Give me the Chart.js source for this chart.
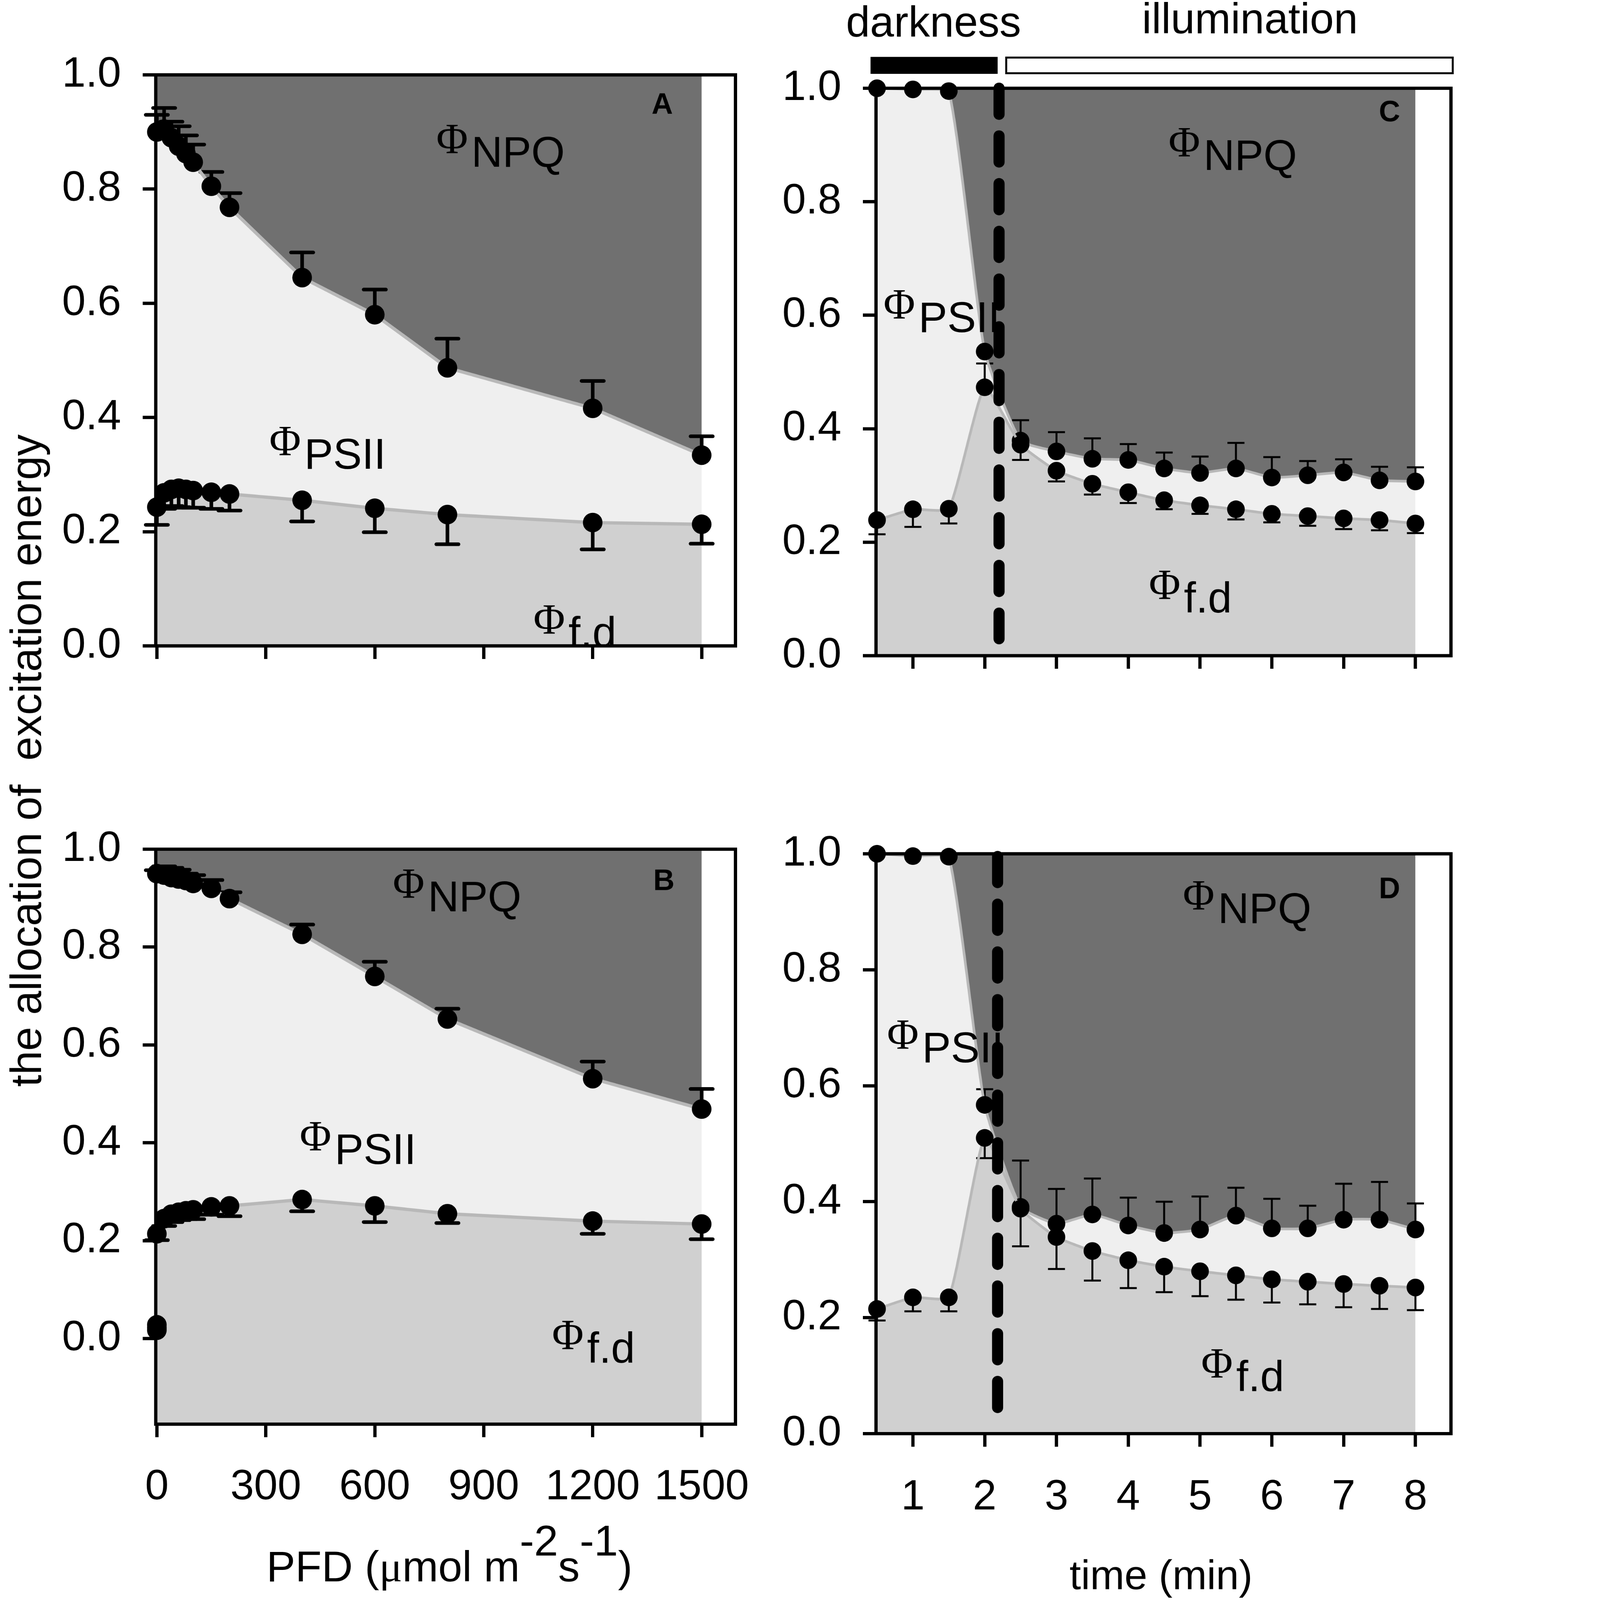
<!DOCTYPE html>
<html lang="en">
<head>
<meta charset="UTF-8">
<title>Allocation of excitation energy</title>
<script src="https://cdn.jsdelivr.net/npm/chart.js"></script>
<style>
    html, body { margin: 0; padding: 0; background: #fff; overflow: hidden; }
    #page { position: absolute; left: 0; top: 0; width: 4466px; height: 4895px; transform-origin: 0 0; }
    .wrap { position: absolute; }
    #yTitle {
        position: absolute;
        left: 80px;
        top: 2327px;
        transform: translate(-50%, -50%) rotate(-90deg);
        white-space: pre;
        font-family: "Liberation Sans", Arial, sans-serif;
        font-size: 132px;
        line-height: 1;
        color: #000;
    }
</style>
</head>
<body>
<div id="page">
    <div class="wrap" id="wrapA"><canvas id="chartA"></canvas></div>
    <div class="wrap" id="wrapB"><canvas id="chartB"></canvas></div>
    <div class="wrap" id="wrapC"><canvas id="chartC"></canvas></div>
    <div class="wrap" id="wrapD"><canvas id="chartD"></canvas></div>
    <div id="yTitle">the allocation of  excitation energy</div>
</div>

<script>
// ---- data ----
// panels A/B: light response (PFD, umol m-2 s-1)
const pfd = [0, 20, 40, 60, 80, 100, 150, 200, 400, 600, 800, 1200, 1500];
const pfdTicks = [0, 300, 600, 900, 1200, 1500];

// upper boundary = PhiPSII + Phif,d (i.e. 1 - PhiNPQ), lower boundary = Phif,d
const aUpper    = [0.900, 0.905, 0.890, 0.875, 0.862, 0.847, 0.805, 0.768, 0.645, 0.580, 0.487, 0.416, 0.334];
const aUpperCap = [0.930, 0.942, 0.918, 0.910, 0.894, 0.878, 0.830, 0.793, 0.689, 0.624, 0.538, 0.464, 0.367];
const aLower    = [0.243, 0.268, 0.274, 0.276, 0.274, 0.272, 0.269, 0.266, 0.255, 0.241, 0.230, 0.216, 0.213];
const aLowerCap = [0.212, 0.240, 0.245, 0.243, 0.242, 0.242, 0.240, 0.237, 0.218, 0.199, 0.178, 0.169, 0.179];

const bUpper    = [0.950, 0.947, 0.942, 0.939, 0.936, 0.930, 0.920, 0.899, 0.826, 0.740, 0.653, 0.531, 0.469];
const bUpperCap = [0.957, 0.965, 0.962, 0.958, 0.950, 0.947, 0.937, 0.912, 0.846, 0.770, 0.674, 0.566, 0.510];
const bLower    = [0.214, 0.245, 0.254, 0.258, 0.261, 0.263, 0.269, 0.271, 0.284, 0.271, 0.255, 0.240, 0.234];
const bLowerCap = [0.201, 0.230, 0.238, 0.242, 0.244, 0.244, 0.253, 0.250, 0.260, 0.238, 0.236, 0.214, 0.203];
const bOutlierX = [0, 0, 0];
const bOutlier  = [0.028, 0.022, 0.017];

// panels C/D: dark-light transition (time, min)
const time = [0.5, 1, 1.5, 2, 2.5, 3, 3.5, 4, 4.5, 5, 5.5, 6, 6.5, 7, 7.5, 8];
const timeTicks = [1, 2, 3, 4, 5, 6, 7, 8];

const cUpper    = [1.000, 0.998, 0.995, 0.536, 0.379, 0.360, 0.347, 0.345, 0.330, 0.322, 0.330, 0.314, 0.318, 0.323, 0.309, 0.307];
const cUpperCap = [null, null, null, null, 0.415, 0.394, 0.383, 0.373, 0.358, 0.351, 0.375, 0.350, 0.343, 0.346, 0.333, 0.332];
const cLower    = [0.239, 0.258, 0.259, 0.473, 0.372, 0.326, 0.303, 0.288, 0.274, 0.265, 0.258, 0.250, 0.246, 0.242, 0.239, 0.233];
const cLowerCap = [0.214, 0.227, 0.233, 0.515, 0.345, 0.307, 0.284, 0.269, 0.258, 0.250, 0.240, 0.235, 0.229, 0.223, 0.221, 0.216];

const dUpper    = [1.000, 0.996, 0.995, 0.567, 0.391, 0.362, 0.378, 0.359, 0.346, 0.352, 0.376, 0.354, 0.354, 0.369, 0.369, 0.352];
const dUpperCap = [null, null, null, 0.594, 0.471, 0.422, 0.440, 0.407, 0.400, 0.409, 0.424, 0.405, 0.393, 0.431, 0.434, 0.397];
const dLower    = [0.215, 0.235, 0.235, 0.510, 0.388, 0.339, 0.315, 0.299, 0.288, 0.280, 0.273, 0.266, 0.262, 0.258, 0.255, 0.252];
const dLowerCap = [0.195, 0.211, 0.211, 0.475, 0.323, 0.284, 0.264, 0.251, 0.244, 0.237, 0.231, 0.226, 0.223, 0.218, 0.215, 0.213];

const yTicks = [0, 0.2, 0.4, 0.6, 0.8, 1.0];

// darkness / illumination periods and the switch-on time (min)
const darkPeriod = [0.41, 2.18];
const lightPeriod = [2.30, 8.52];
const switchC = 2.2;
const switchD = 2.18;

// ---- page scaling: layout is written in 4466 x 4895 reference pixels ----
const pageScale = Math.min(window.innerWidth / 4466, window.innerHeight / 4895);
document.getElementById('page').style.transform = 'scale(' + pageScale + ')';

// ---- styles ----
const SANS = '"Liberation Sans", Arial, sans-serif';
const SERIF = '"Liberation Serif", "Times New Roman", serif';
const NPQ_FILL = '#707070';
const PSII_FILL = '#efefef';
const FD_FILL = '#d0d0d0';
const LINE = '#b8b8b8';
const Y_AXIS_W = 320;
const TEXT_SIZE = 132;

// helper: Phi with a lowered subscript
function drawPhi(ctx, x, y, sub) {
    ctx.font = TEXT_SIZE + 'px ' + SERIF;
    ctx.fillText('\u03A6', x, y);
    ctx.font = TEXT_SIZE + 'px ' + SANS;
    ctx.fillText(sub, x + 107, y + 42);
}

function makePlugin(p) {
    const off = p.wrap;
    return {
        id: 'panel' + p.name,
        beforeDatasetsDraw(chart) {
            const { ctx, scales: { x, y } } = chart;
            ctx.save();
            ctx.strokeStyle = '#000';
            ctx.lineWidth = p.err.width;
            ctx.lineCap = p.err.cap;
            p.errSets.forEach(set => {
                set.xs.forEach((xv, i) => {
                    const c = set.caps[i];
                    if (c === null) return;
                    const px = x.getPixelForValue(xv);
                    const py = y.getPixelForValue(set.ys[i]);
                    const pc = y.getPixelForValue(c);
                    ctx.beginPath();
                    ctx.moveTo(px, py);
                    ctx.lineTo(px, pc);
                    ctx.moveTo(px - p.err.half, pc);
                    ctx.lineTo(px + p.err.half, pc);
                    ctx.stroke();
                });
            });
            ctx.restore();
        },
        afterDatasetsDraw(chart) {
            if (p.switchAt === undefined) return;
            const { ctx, scales: { x, y } } = chart;
            const px = x.getPixelForValue(p.switchAt);
            ctx.save();
            ctx.strokeStyle = '#000';
            ctx.lineWidth = 34;
            ctx.lineCap = 'round';
            ctx.setLineDash([80, 66]);
            ctx.beginPath();
            ctx.moveTo(px, y.getPixelForValue(p.switchSpan[0]) + 17);
            ctx.lineTo(px, y.getPixelForValue(p.switchSpan[1]) - 17);
            ctx.stroke();
            ctx.restore();
        },
        afterDraw(chart) {
            const { ctx, chartArea: ca, scales: { x } } = chart;
            ctx.save();
            // frame
            ctx.strokeStyle = '#000';
            ctx.lineWidth = 10;
            ctx.strokeRect(ca.left, ca.top, ca.right - ca.left, ca.bottom - ca.top);

            ctx.fillStyle = '#000';
            ctx.textAlign = 'left';
            ctx.textBaseline = 'alphabetic';
            p.phis.forEach(l => drawPhi(ctx, l[0] - off.left, l[1] - off.top, l[2]));

            ctx.textAlign = 'center';
            ctx.font = 'bold 90px ' + SANS;
            ctx.fillText(p.letter[0], p.letter[1] - off.left, p.letter[2] - off.top);

            if (p.title) p.title(ctx, off);

            if (p.periods) {
                const x0 = x.getPixelForValue(darkPeriod[0]);
                const x1 = x.getPixelForValue(darkPeriod[1]);
                ctx.fillStyle = '#000';
                ctx.fillRect(x0, 174 - off.top, x1 - x0, 52);
                const x2 = x.getPixelForValue(lightPeriod[0]);
                const x3 = x.getPixelForValue(lightPeriod[1]);
                ctx.fillStyle = '#fff';
                ctx.fillRect(x2, 176 - off.top, x3 - x2, 48);
                ctx.lineWidth = 6;
                ctx.strokeRect(x2, 176 - off.top, x3 - x2, 48);
                ctx.fillStyle = '#000';
                ctx.font = TEXT_SIZE + 'px ' + SANS;
                ctx.textAlign = 'center';
                ctx.fillText('darkness', 2856 - off.left, 112 - off.top);
                ctx.fillText('illumination', 3824 - off.left, 102 - off.top);
            }
            ctx.restore();
        }
    };
}

function bandDatasets(xs, lower, upper, st) {
    const pts = ys => xs.map((v, i) => ({ x: v, y: ys[i] }));
    const common = { tension: st.tension, clip: false };
    return [
        Object.assign({
            label: 'Phi f,d',
            data: pts(lower),
            borderColor: LINE,
            borderWidth: st.lw,
            fill: 'start',
            backgroundColor: FD_FILL,
            pointRadius: st.r,
            pointHoverRadius: st.r,
            pointBackgroundColor: '#000',
            pointBorderWidth: 0
        }, common),
        Object.assign({
            label: 'Phi PSII band',
            data: pts(upper),
            borderWidth: 0,
            pointRadius: 0,
            fill: 'start',
            backgroundColor: PSII_FILL
        }, common),
        Object.assign({
            label: '1 - Phi NPQ',
            data: pts(upper),
            borderColor: LINE,
            borderWidth: st.lw,
            fill: 'end',
            backgroundColor: NPQ_FILL,
            pointRadius: st.r,
            pointHoverRadius: st.r,
            pointBackgroundColor: '#000',
            pointBorderWidth: 0
        }, common)
    ];
}

function buildPanel(p) {
    const w = p.wrap;
    const el = document.getElementById('wrap' + p.name);
    el.style.left = w.left + 'px';
    el.style.top = w.top + 'px';
    el.style.width = w.width + 'px';
    el.style.height = w.height + 'px';
    const a = p.area;
    const padding = {
        left: a.l - w.left - Y_AXIS_W,
        top: a.t - w.top,
        right: w.left + w.width - a.r,
        bottom: w.top + w.height - a.b - p.xAxisH
    };
    const tickFont = { family: SANS, size: 130, lineHeight: 1.2 };
    return new Chart(document.getElementById('chart' + p.name), {
        type: 'line',
        data: { datasets: p.datasets },
        options: {
            responsive: true,
            maintainAspectRatio: false,
            animation: false,
            devicePixelRatio: 1,
            layout: { padding },
            plugins: {
                legend: { display: false },
                tooltip: { enabled: false },
                filler: { drawTime: 'beforeDatasetsDraw' }
            },
            scales: {
                x: {
                    type: 'linear',
                    min: p.xRange[0],
                    max: p.xRange[1],
                    afterBuildTicks: s => { s.ticks = p.xTicks.map(v => ({ value: v })); },
                    afterFit: s => { s.height = p.xAxisH; },
                    grid: { drawOnChartArea: false, drawTicks: true, tickLength: 40, tickWidth: 10, tickColor: '#000', lineWidth: 10 },
                    border: { display: true, color: '#000', width: 10 },
                    ticks: { display: p.xLabels, color: '#000', font: tickFont, padding: p.xLabelPad, maxRotation: 0, autoSkip: false, callback: v => String(v) }
                },
                y: {
                    type: 'linear',
                    min: p.yRange[0],
                    max: p.yRange[1],
                    afterBuildTicks: s => { s.ticks = yTicks.map(v => ({ value: v })); },
                    afterFit: s => { s.width = Y_AXIS_W; },
                    grid: { drawOnChartArea: false, drawTicks: true, tickLength: 40, tickWidth: 10, tickColor: '#000', lineWidth: 10 },
                    border: { display: true, color: '#000', width: 10 },
                    ticks: { color: '#000', font: tickFont, padding: 66, autoSkip: false, callback: v => v.toFixed(1) }
                }
            }
        },
        plugins: [makePlugin(p)]
    });
}

const styleAB = { lw: 10, r: 30, tension: 0 };
const styleCD = { lw: 8, r: 27, tension: 0.15 };

buildPanel({
    name: 'A',
    wrap: { left: 150, top: 0, width: 2150, height: 2120 },
    area: { l: 476.5, t: 229, r: 2250, b: 2005 },
    xRange: [-3, 1593], yRange: [0, 1],
    xTicks: pfdTicks, xLabels: false, xAxisH: 60, xLabelPad: 0,
    datasets: bandDatasets(pfd, aLower, aUpper, styleAB),
    errSets: [{ xs: pfd, ys: aUpper, caps: aUpperCap }, { xs: pfd, ys: aLower, caps: aLowerCap }],
    err: { width: 11, half: 34, cap: 'round' },
    phis: [[1335, 468, 'NPQ'], [824, 1392, 'PSII'], [1632, 1938, 'f.d']],
    letter: ['A', 2026, 348]
});

const bSets = bandDatasets(pfd, bLower, bUpper, styleAB);
bSets.push({
    label: 'Phi f,d at darkness',
    data: bOutlierX.map((v, i) => ({ x: v, y: bOutlier[i] })),
    showLine: false,
    pointRadius: 30,
    pointHoverRadius: 30,
    pointBackgroundColor: '#000',
    pointBorderWidth: 0,
    fill: false,
    clip: false
});

buildPanel({
    name: 'B',
    wrap: { left: 150, top: 2450, width: 2250, height: 2445 },
    area: { l: 476.5, t: 2598, r: 2250, b: 4357 },
    xRange: [-3, 1593], yRange: [-0.175, 1],
    xTicks: pfdTicks, xLabels: true, xAxisH: 300, xLabelPad: 76,
    datasets: bSets,
    errSets: [{ xs: pfd, ys: bUpper, caps: bUpperCap }, { xs: pfd, ys: bLower, caps: bLowerCap }],
    err: { width: 11, half: 34, cap: 'round' },
    phis: [[1202, 2746, 'NPQ'], [917, 3519, 'PSII'], [1689, 4127, 'f.d']],
    letter: ['B', 2031, 2723],
    title(ctx, off) {
        // PFD (umol m-2 s-1) with raised exponents
        const parts = [
            ['PFD (', SANS, 0], ['\u03BC', SERIF, 0], ['mol m', SANS, 0],
            ['-2', SANS, 1], ['s', SANS, 0], ['-1', SANS, 1], [')', SANS, 0]
        ];
        let total = 0;
        parts.forEach(q => { ctx.font = TEXT_SIZE + 'px ' + q[1]; q.push(ctx.measureText(q[0]).width); total += q[3]; });
        let cx = 1375 - off.left - total / 2;
        const base = 4838 - off.top;
        ctx.textAlign = 'left';
        parts.forEach(q => {
            ctx.font = TEXT_SIZE + 'px ' + q[1];
            ctx.fillText(q[0], cx, base - q[2] * 0.6 * TEXT_SIZE);
            cx += q[3];
        });
    }
});

buildPanel({
    name: 'C',
    wrap: { left: 2350, top: 0, width: 2116, height: 2150 },
    area: { l: 2680, t: 270, r: 4458, b: 2040 },
    xRange: [0.486, 8.495], yRange: [0, 1],
    xTicks: timeTicks, xLabels: false, xAxisH: 60, xLabelPad: 0,
    datasets: bandDatasets(time, cLower, cUpper, styleCD),
    errSets: [{ xs: time, ys: cUpper, caps: cUpperCap }, { xs: time, ys: cLower, caps: cLowerCap }],
    err: { width: 6, half: 26, cap: 'butt' },
    phis: [[3575, 478, 'NPQ'], [2703, 974, 'PSII'], [3515, 1832, 'f.d']],
    letter: ['C', 4251, 371],
    switchAt: switchC, switchSpan: [1.01, 0.02],
    periods: true
});

buildPanel({
    name: 'D',
    wrap: { left: 2350, top: 2450, width: 2116, height: 2445 },
    area: { l: 2680, t: 2612, r: 4458, b: 4386 },
    xRange: [0.486, 8.495], yRange: [0, 1],
    xTicks: timeTicks, xLabels: true, xAxisH: 300, xLabelPad: 78,
    datasets: bandDatasets(time, dLower, dUpper, styleCD),
    errSets: [{ xs: time, ys: dUpper, caps: dUpperCap }, { xs: time, ys: dLower, caps: dLowerCap }],
    err: { width: 6, half: 26, cap: 'butt' },
    phis: [[3619, 2782, 'NPQ'], [2714, 3208, 'PSII'], [3675, 4214, 'f.d']],
    letter: ['D', 4251, 2748],
    switchAt: switchD, switchSpan: [1.005, 0.0],
    title(ctx, off) {
        ctx.font = '126px ' + SANS;
        ctx.textAlign = 'center';
        ctx.fillText('time (min)', 3552 - off.left, 4862 - off.top);
    }
});
</script>
</body>
</html>
